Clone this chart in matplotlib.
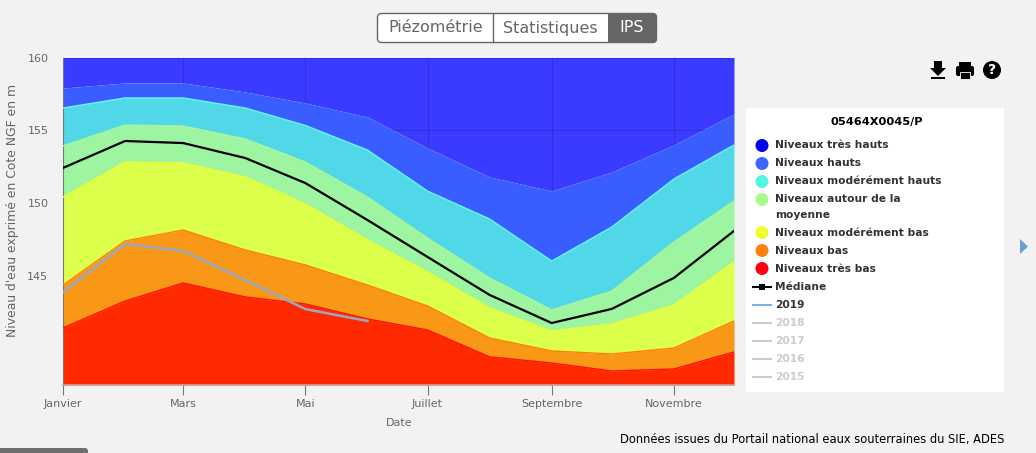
# IPS chart for piezometer 05464X0045/P
import pandas as pd
import matplotlib
matplotlib.use("Agg")
import matplotlib.pyplot as plt
from matplotlib.patches import Circle, FancyBboxPatch, Polygon, Rectangle

plt.rcParams['font.family'] = ['DejaVu Sans']

months = pd.date_range('2016-01-01', periods=12, freq='MS')
month_names = ['Janvier', 'Mars', 'Mai', 'Juillet', 'Septembre', 'Novembre']

y_top = 160
y_bottom = 137.49
hauts = [157.90, 158.25, 158.25, 157.63, 156.87, 155.91, 153.78, 151.79, 150.82, 152.13, 153.99, 156.12]
mod_hauts = [156.53, 157.22, 157.22, 156.53, 155.33, 153.64, 150.82, 148.90, 146.01, 148.35, 151.65, 153.99]
autour = [153.92, 155.36, 155.29, 154.40, 152.82, 150.41, 147.59, 144.85, 142.65, 143.95, 147.32, 150.14]
mod_bas = [150.41, 152.82, 152.75, 151.79, 149.93, 147.46, 145.26, 142.78, 141.20, 141.68, 142.99, 145.95]
bas = [144.36, 147.39, 148.14, 146.77, 145.74, 144.36, 142.92, 140.72, 139.83, 139.62, 140.03, 141.89]
tres_bas = [141.41, 143.26, 144.50, 143.54, 143.06, 142.03, 141.27, 139.42, 139.00, 138.45, 138.59, 139.76]
mediane = [152.41, 154.26, 154.12, 153.09, 151.37, 148.83, 146.29, 143.68, 141.75, 142.72, 144.85, 148.08]
annee_2019 = [143.88, 147.18, 146.70, 144.71, 142.71, 141.89]

W, H = 1036, 453
fig = plt.figure(figsize=(W / 100, H / 100), dpi=100, facecolor='#f2f2f2')
ax = fig.add_axes([63 / W, 1 - 385 / H, (734 - 63) / W, (385 - 57.5) / H])

# bands, top to bottom. the grid only shows through the top one
ax.fill_between(months, hauts, y_top, color='#3b3bff', lw=0, zorder=0)
ax.set_axisbelow(True)
ax.grid(True, color='#2222b0', lw=0.8, alpha=0.4)

ax.fill_between(months, mod_hauts, hauts, color='#3a5dff', lw=0, zorder=2)
ax.fill_between(months, autour, mod_hauts, color='#50d7e8', lw=0, zorder=2)
ax.fill_between(months, mod_bas, autour, color='#9df5a2', lw=0, zorder=2)
ax.fill_between(months, bas, mod_bas, color='#dcff4c', lw=0, zorder=2)
ax.fill_between(months, tres_bas, bas, color='#f89816', lw=0, zorder=2)
ax.fill_between(months, y_bottom, tres_bas, color='#ff2a00', lw=0, zorder=2)

ax.plot(months, mod_hauts, color='#62f8f2', lw=1, zorder=3)
ax.plot(months, autour, color='#a4f79a', lw=1, zorder=3)
ax.plot(months, mod_bas, color='#e8ff30', lw=1, zorder=3)
ax.plot(months, bas, color='#ff7f00', lw=1, zorder=3)
ax.plot(months, tres_bas, color='#ff1000', lw=1, zorder=3)

ax.plot(months, mediane, color='black', lw=1.6, zorder=4)
ax.plot(months[:6], annee_2019, color='#9aa8c0', lw=1.8, zorder=4)

ax.set_xlim(months[0], months[-1])
ax.set_ylim(y_bottom, y_top)
ax.set_yticks([145, 150, 155, 160])
ax.set_xticks(months[::2])
ax.set_xticklabels(month_names)
ax.tick_params(axis='y', length=0, pad=10.5, labelsize=8, labelcolor='#666666')
ax.tick_params(axis='x', length=7, width=0.8, color='#777777', pad=3, labelsize=8, labelcolor='#666666')
ax.spines['top'].set_visible(False)
ax.spines['right'].set_visible(False)
ax.spines['left'].set_color('#777777')
ax.spines['bottom'].set_color('#c8a8a0')
ax.spines['bottom'].set_linewidth(1.2)

# everything around the chart, in pixel coordinates
ov = fig.add_axes([0, 0, 1, 1], facecolor='none')
ov.set_xlim(0, W)
ov.set_ylim(H, 0)
ov.axis('off')

ov.text(13, 210, "Niveau d'eau exprimé en Cote NGF en m", rotation=90, ha='center', va='center',
        fontsize=8.9, color='#666666')
ov.text(399, 423, 'Date', ha='center', va='center', fontsize=8, color='#666666')
ov.text(1004, 439, 'Données issues du Portail national eaux souterraines du SIE, ADES',
        ha='right', va='center', fontsize=8.3, color='black')

# buttons
ov.add_patch(FancyBboxPatch((377.5, 13.5), 279, 29, boxstyle='round,pad=0,rounding_size=4',
                            fc='white', ec='#666666', lw=1))
ov.add_patch(FancyBboxPatch((608, 13.5), 49, 29, boxstyle='round,pad=0,rounding_size=4',
                            fc='#666666', ec='none'))
ov.add_patch(Rectangle((608, 13.5), 10, 29, fc='#666666', ec='none'))
ov.plot([492.5, 492.5], [14, 42], color='#666666', lw=1)
for label, x, col in [('Piézométrie', 435.5, '#666666'), ('Statistiques', 550.5, '#666666'), ('IPS', 632, 'white')]:
    ov.text(x, 28, label, ha='center', va='center', fontsize=11.5, color=col)

# download, print and help icons
ov.add_patch(Polygon([(934, 61), (942, 61), (942, 68), (946, 68), (938, 76), (930, 68), (934, 68)], fc='black', ec='none'))
ov.add_patch(Rectangle((931, 77), 14, 2, fc='black', ec='none'))
ov.add_patch(FancyBboxPatch((956, 66), 18, 10, boxstyle='round,pad=0,rounding_size=2', fc='black', ec='none'))
ov.add_patch(Rectangle((959, 62), 12, 4, fc='black', ec='none'))
ov.add_patch(Rectangle((960, 72), 10, 6.5, fc='black', ec='white', lw=0.6))
ov.add_patch(Circle((992, 70), 9, fc='black', ec='none'))
ov.text(992, 70.5, '?', ha='center', va='center', fontsize=10, fontweight='bold', color='white')

# side arrow and bottom scrollbar
ov.add_patch(Polygon([(1020, 239), (1028, 246.5), (1020, 254)], fc='#6a9fd0', ec='none'))
ov.add_patch(FancyBboxPatch((-10, 448), 98, 12, boxstyle='round,pad=0,rounding_size=3', fc='#6e6e6e', ec='none'))

# legend
ov.add_patch(Rectangle((746, 108), 258, 284, fc='white', ec='none'))
ov.text(877, 122.5, '05464X0045/P', ha='center', va='center', fontsize=8.2, fontweight='bold', color='black')

circle_entries = [('Niveaux très hauts', 145.5, '#0000f0'),
                  ('Niveaux hauts', 163.5, '#3d66ff'),
                  ('Niveaux modérément hauts', 181.5, '#55f5e5'),
                  ('Niveaux autour de la', 199.5, '#a8fb8c'),
                  ('Niveaux modérément bas', 232.5, '#eeff30'),
                  ('Niveaux bas', 250.5, '#ff7f10'),
                  ('Niveaux très bas', 268.5, '#ff0010')]
for label, y, col in circle_entries:
    ov.add_patch(Circle((762, y), 6.5, fc=col, ec='none'))
    ov.text(775, y, label, ha='left', va='center', fontsize=7.7, fontweight='bold', color='#333333')
ov.text(775, 215, 'moyenne', ha='left', va='center', fontsize=7.7, fontweight='bold', color='#333333')

line_entries = [('Médiane', 286.5, 'black', '#333333'), ('2019', 304.5, '#7cb0e8', '#333333'),
                ('2018', 322.5, '#cccccc', '#cccccc'), ('2017', 340.5, '#cccccc', '#cccccc'),
                ('2016', 358.5, '#cccccc', '#cccccc'), ('2015', 376.5, '#cccccc', '#cccccc')]
for label, y, col, txt_col in line_entries:
    ov.plot([753, 771], [y, y], color=col, lw=1.5)
    if label == 'Médiane':
        ov.add_patch(Rectangle((759, y - 3), 6, 6, fc='black', ec='none'))
    ov.text(775, y, label, ha='left', va='center', fontsize=7.7, fontweight='bold', color=txt_col)

plt.savefig('out.png', dpi=100, facecolor=fig.get_facecolor())
